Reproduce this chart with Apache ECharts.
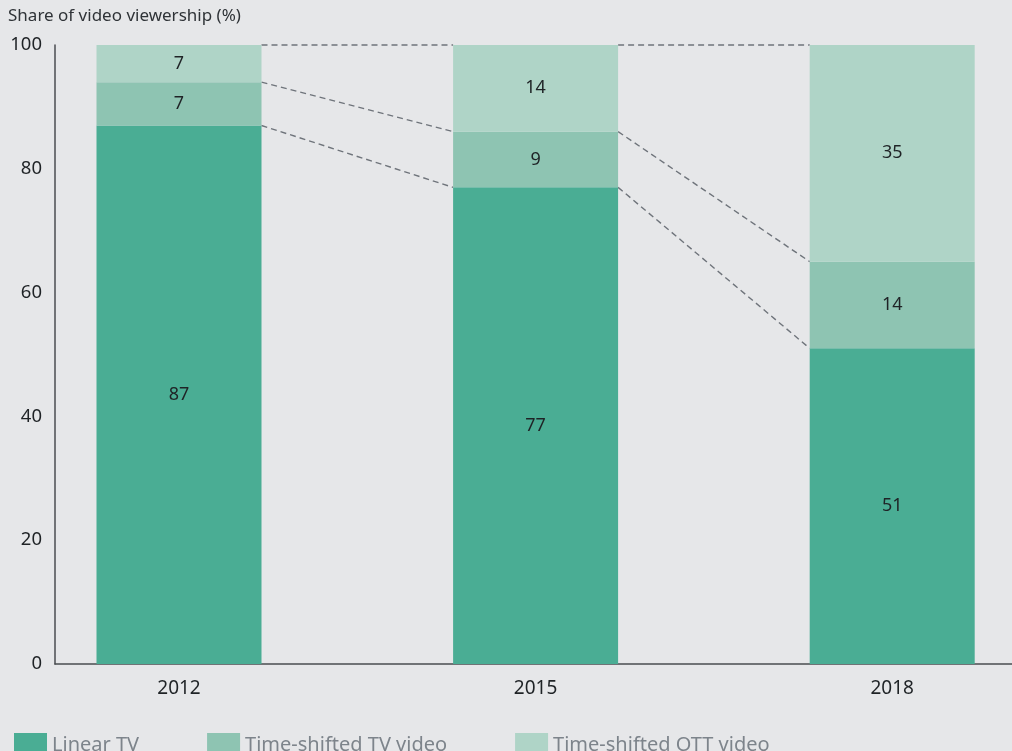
<!DOCTYPE html>
<html>
<head>
<meta charset="utf-8">
<script src="https://cdn.jsdelivr.net/npm/echarts@6/dist/echarts.min.js"></script>
<style>
  html, body { margin: 0; padding: 0; background: #e6e7e9; }
  #chart { width: 1012px; height: 751px; }
</style>
</head>
<body>
<div id="chart"></div>
<script>
var years = ['2012', '2015', '2018'];
var linearTV = [87, 77, 51];
var shiftedTV = [7, 9, 14];
var shiftedOTT = [7, 14, 35];
var yTicks = [0, 20, 40, 60, 80, 100];

var chart = echarts.init(document.getElementById('chart'));
var font = 'Noto Sans';
var barW = 165;

// stacked tops of each segment, capped at the axis max
var stacks = [linearTV, shiftedTV, shiftedOTT];
var tops = [];
var run = years.map(function () { return 0; });
stacks.forEach(function (s) {
    run = run.map(function (r, i) { return r + s[i]; });
    tops.push(run.map(function (v) { return Math.min(v, 100); }));
});
var links = [];
tops.forEach(function (t) {
    for (var i = 0; i < years.length - 1; i++) {
        links.push([i, t[i], t[i + 1]]);
    }
});

var labelStyle = {
    show: true,
    position: 'inside',
    color: '#1f2326',
    fontSize: 18,
    fontFamily: font
};
var axisLineStyle = { show: true, lineStyle: { color: '#4a4d50', width: 1.5 } };

var option = {
    backgroundColor: '#e6e7e9',
    animation: false,
    title: {
        text: 'Share of video viewership (%)',
        left: 3,
        top: 3,
        textStyle: { fontSize: 17, fontWeight: 'normal', color: '#2f3337', fontFamily: font }
    },
    legend: {
        left: 9,
        top: 728,
        itemWidth: 33,
        itemHeight: 24,
        itemGap: 68,
        icon: 'rect',
        textStyle: { fontSize: 20, color: '#7d848b', fontFamily: font },
        data: ['Linear TV', 'Time-shifted TV video', 'Time-shifted OTT video']
    },
    // grid 0 holds the bars (bands wider than the visible axis), grid 1 draws the axes
    grid: [
        { left: 0.7, width: 1069.8, top: 45, bottom: 87, outerBoundsMode: 'none' },
        { left: 55, right: 0, top: 45, bottom: 87, outerBoundsMode: 'none' }
    ],
    xAxis: [
        {
            type: 'category',
            gridIndex: 0,
            data: years,
            axisLine: { show: false },
            axisTick: { show: false },
            axisLabel: { margin: 15, fontSize: 19, color: '#1f2326', fontFamily: font }
        },
        {
            type: 'value',
            gridIndex: 1,
            min: 0,
            max: 1,
            splitLine: { show: false },
            axisLine: axisLineStyle,
            axisTick: { show: false },
            axisLabel: { show: false }
        }
    ],
    yAxis: [
        {
            type: 'value',
            gridIndex: 0,
            min: 0,
            max: 100,
            interval: 20,
            show: false
        },
        {
            type: 'value',
            gridIndex: 1,
            min: 0,
            max: 100,
            interval: 20,
            splitLine: { show: false },
            axisLine: axisLineStyle,
            axisTick: { show: false },
            axisLabel: { margin: 13, fontSize: 18.5, color: '#1f2326', fontFamily: font }
        }
    ],
    series: [
        {
            name: 'Linear TV', type: 'bar', stack: 'v', barWidth: barW,
            itemStyle: { color: '#4aad94' }, label: labelStyle, data: linearTV
        },
        {
            name: 'Time-shifted TV video', type: 'bar', stack: 'v', barWidth: barW,
            itemStyle: { color: '#8ec4b2' }, label: labelStyle, data: shiftedTV
        },
        {
            name: 'Time-shifted OTT video', type: 'bar', stack: 'v', barWidth: barW,
            itemStyle: { color: '#afd4c7' }, label: labelStyle, data: shiftedOTT
        },
        {
            type: 'custom',
            silent: true,
            z: 1,
            renderItem: function (params, api) {
                var a = api.coord([api.value(0), api.value(1)]);
                var b = api.coord([api.value(0) + 1, api.value(2)]);
                return {
                    type: 'line',
                    shape: { x1: a[0] + barW / 2, y1: a[1], x2: b[0] - barW / 2, y2: b[1] },
                    style: { stroke: '#6f747b', lineWidth: 1.4, lineDash: [6, 4] }
                };
            },
            data: links
        }
    ]
};

chart.setOption(option);
</script>
</body>
</html>
